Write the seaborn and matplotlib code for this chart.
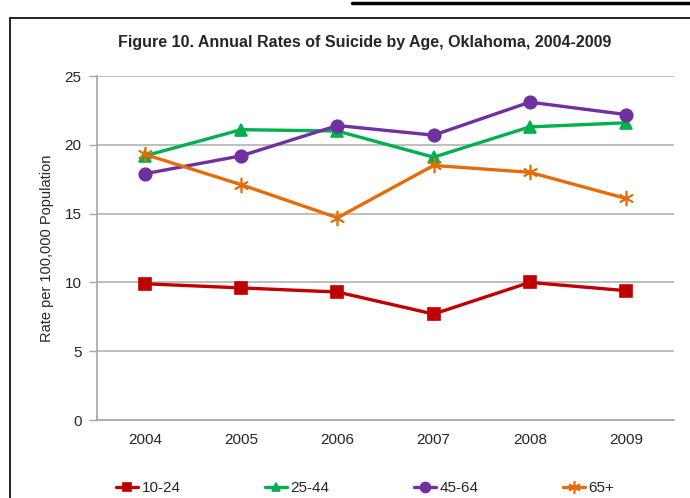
import matplotlib
matplotlib.use("Agg")
import matplotlib.pyplot as plt
import matplotlib.lines as mlines
import seaborn as sns
import pandas as pd

years = ["2004", "2005", "2006", "2007", "2008", "2009"]
age_groups = ["10-24", "25-44", "45-64", "65+"]
rate_10_24 = [9.9, 9.6, 9.3, 7.7, 10.0, 9.4]
rate_25_44 = [19.2, 21.1, 21.0, 19.1, 21.3, 21.6]
rate_45_64 = [17.9, 19.2, 21.4, 20.7, 23.1, 22.2]
rate_65_up = [19.3, 17.1, 14.7, 18.5, 18.0, 16.1]

colors = ["#c00000", "#00b050", "#7030a0", "#e46c0a"]
markers = ["s", "^", "o", (6, 2, 0)]
msizes = [8, 8, 9, 11]

# long form table
rows = []
for grp, vals in zip(age_groups, [rate_10_24, rate_25_44, rate_45_64, rate_65_up]):
    for i, v in enumerate(vals):
        rows.append({"pos": i, "year": years[i], "group": grp, "rate": v})
df = pd.DataFrame(rows)

sns.set_style("white")
plt.rcParams["font.family"] = ["Liberation Sans Narrow", "Liberation Sans", "DejaVu Sans"]

fig = plt.figure(figsize=(6.9, 4.98), dpi=100)
ax = fig.add_axes([97 / 690, 1 - 420 / 498, 577 / 690, 344 / 498])

for grp, c, m, ms in zip(age_groups, colors, markers, msizes):
    sub = df[df["group"] == grp]
    sns.lineplot(data=sub, x="pos", y="rate", ax=ax, color=c, lw=2.4,
                 marker=m, markersize=ms, markeredgecolor=c,
                 markeredgewidth=1.2, label=grp, legend=False)

ax.set_xlim(-0.5, 5.5)
ax.set_ylim(0, 25)
ax.set_yticks([0, 5, 10, 15, 20, 25])
ax.set_xticks(range(6))
ax.set_xticklabels(years)
ax.set_xticks([i - 0.5 for i in range(7)], minor=True)
ax.tick_params(axis="x", which="major", length=0, labelsize=11, pad=9)
ax.tick_params(axis="x", which="minor", length=5, color="#a6a6a6", width=1, direction="out")
ax.tick_params(axis="y", length=6, color="#a6a6a6", width=1, labelsize=11, pad=5, left=True)
ax.grid(axis="y", color="#b3b3b3", lw=1.2)
ax.set_axisbelow(True)
for s in ["top", "right"]:
    ax.spines[s].set_visible(False)
for s in ["left", "bottom"]:
    ax.spines[s].set_color("#a6a6a6")
    ax.spines[s].set_linewidth(1.2)
ax.set_xlabel("")
ax.set_ylabel("Rate per 100,000 Population", fontsize=10.5, labelpad=8)

fig.text(365 / 690, 1 - 42 / 498, "Figure 10. Annual Rates of Suicide by Age, Oklahoma, 2004-2009",
         ha="center", va="center", fontsize=11.5, fontweight="bold")

handles = [mlines.Line2D([], [], color=c, lw=2.4, marker=m, markersize=ms * 0.8,
                         markeredgecolor=c, markeredgewidth=1.2)
           for c, m, ms in zip(colors, markers, msizes)]
fig.legend(handles, age_groups, loc="center", bbox_to_anchor=(365 / 690, 1 - 488 / 498),
           ncol=4, frameon=False, fontsize=11, handlelength=1.5, handletextpad=0.2,
           columnspacing=5.5)

# page frame lines
fig.add_artist(mlines.Line2D([10 / 690, 10 / 690], [0, 1 - 18 / 498], color="black", lw=1.2))
fig.add_artist(mlines.Line2D([10 / 690, 1], [1 - 18 / 498, 1 - 18 / 498], color="black", lw=1.2))
fig.add_artist(mlines.Line2D([352 / 690, 1], [1 - 3.5 / 498, 1 - 3.5 / 498], color="black", lw=2.5))

fig.savefig("out.png", dpi=100)
